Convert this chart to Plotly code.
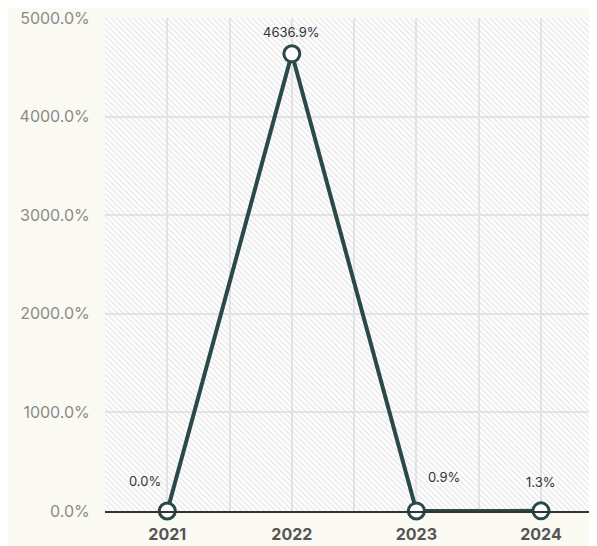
import plotly.graph_objects as go

years = [2021, 2022, 2023, 2024]
year_labels = ["2021", "2022", "2023", "2024"]
growth = [0.0, 4636.9, 0.9, 1.3]
value_labels = ["0.0%", "4636.9%", "0.9%", "1.3%"]
y_ticks = [0, 1000, 2000, 3000, 4000, 5000]
y_tick_labels = ["0.0%", "1000.0%", "2000.0%", "3000.0%", "4000.0%", "5000.0%"]

LINE = "#2b4949"
GRID = "#e6e6e6"
FONT = "Inter, Liberation Sans, Arial, sans-serif"

fig = go.Figure()

# hatched plot-area background on a hidden unit axis pair
fig.add_trace(go.Bar(
    x=[0.5], y=[1], width=[1], base=[0],
    xaxis="x", yaxis="y",
    marker=dict(color="rgba(0,0,0,0)", line=dict(width=0),
                pattern=dict(shape="\\", size=4, solidity=0.4,
                             fgcolor="#d4d4d4", bgcolor="rgba(0,0,0,0)")),
    hoverinfo="skip", showlegend=False,
))

fig.add_trace(go.Scatter(
    x=years, y=growth, xaxis="x2", yaxis="y2",
    mode="lines+markers",
    line=dict(color=LINE, width=4),
    marker=dict(size=16, color="white", line=dict(color=LINE, width=3)),
    cliponaxis=False, showlegend=False,
))

shifts = [(-22, 30), (0, 22), (28, 34), (0, 29)]
for xv, yv, lab, (dx, dy) in zip(years, growth, value_labels, shifts):
    fig.add_annotation(x=xv, y=yv, xref="x2", yref="y2", text=lab,
                       showarrow=False, xshift=dx, yshift=dy,
                       xanchor="center", yanchor="middle",
                       font=dict(size=13, color="#333333", family=FONT))

fig.update_layout(
    width=589, height=538,
    margin=dict(l=97, r=0, t=10, b=35, autoexpand=False),
    paper_bgcolor="#fafaf3",
    plot_bgcolor="white",
    font=dict(family=FONT),
    bargap=0,
    xaxis=dict(range=[0, 1], visible=False, fixedrange=True),
    yaxis=dict(range=[0, 1], visible=False, fixedrange=True),
    xaxis2=dict(
        overlaying="x", anchor="y2", type="linear",
        range=[2020.5, 2024.45], automargin=False,
        tickmode="array", tickvals=years, ticktext=year_labels,
        showgrid=True, gridcolor=GRID, gridwidth=2,
        minor=dict(tick0=2020.5, dtick=1, showgrid=True, gridcolor=GRID, gridwidth=2),
        showline=True, linecolor="#333333", linewidth=1.5,
        ticks="outside", ticklen=8, tickcolor="rgba(0,0,0,0)",
        tickfont=dict(size=16, color="#555555", family=FONT, weight="bold"),
        zeroline=False,
    ),
    yaxis2=dict(
        overlaying="y", anchor="x2",
        range=[0, 5000], automargin=False,
        tickmode="array", tickvals=y_ticks, ticktext=y_tick_labels,
        showgrid=True, gridcolor=GRID, gridwidth=2,
        ticks="outside", ticklen=11, tickcolor="rgba(0,0,0,0)",
        tickfont=dict(size=16, color="#8a8a8a", family=FONT),
        ticklabeloverflow="allow",
        zeroline=False, showline=False,
    ),
)

fig.write_html("out.html")
